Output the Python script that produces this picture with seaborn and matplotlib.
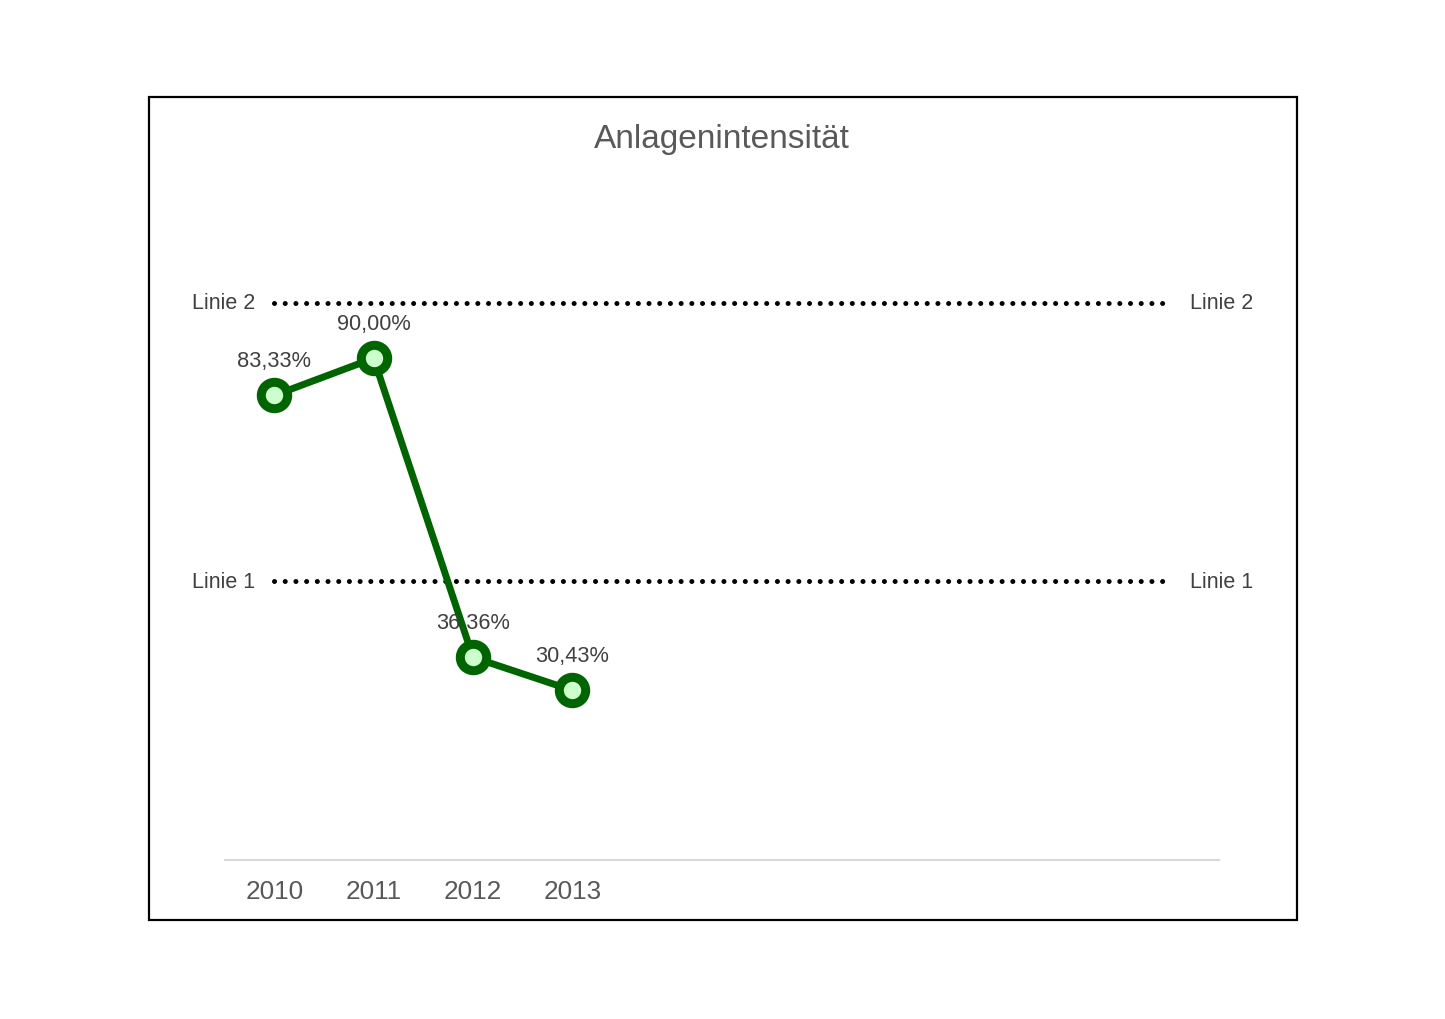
import matplotlib
matplotlib.use("Agg")
import matplotlib.pyplot as plt
import seaborn as sns
import pandas as pd
from matplotlib.patches import Rectangle

# ---- data ----
years = ["2010", "2011", "2012", "2013"]
values = [83.33, 90.00, 36.36, 30.43]
labels = ["83,33%", "90,00%", "36,36%", "30,43%"]
ref_names = ["Linie 1", "Linie 2"]
ref_values = [50, 100]
n_slots = 10
title = "Anlagenintensität"

sns.set_theme(style="white")
plt.rcParams['font.family'] = ['Liberation Sans', 'DejaVu Sans']

fig = plt.figure(figsize=(14.45, 10.2), dpi=100)
ax = fig.add_axes([224.5/1445, 1-861/1020, 994/1445, 669/1020])

df = pd.DataFrame({"pos": range(len(years)), "value": values})

dark = "#006400"
light = "#ccffcc"

# reference lines
for name, v in zip(ref_names, ref_values):
    ax.plot([0, n_slots - 1], [v, v], color="black", lw=3.6,
            linestyle=(0, (0.01, 2.13)), dash_capstyle="round", zorder=2)
    ax.annotate(name, (0, v), xytext=(-14, 0), textcoords="offset points",
                ha="right", va="center", fontsize=15.5, color="#404040",
                annotation_clip=False)
    ax.annotate(name, (n_slots - 1, v), xytext=(15, 0), textcoords="offset points",
                ha="left", va="center", fontsize=15.5, color="#404040",
                annotation_clip=False)

sns.lineplot(data=df, x="pos", y="value", ax=ax, color=dark, lw=5,
             marker="o", markersize=19, markeredgewidth=6.5,
             markeredgecolor=dark, markerfacecolor=light, zorder=3)

for x, y, t in zip(df["pos"], df["value"], labels):
    ax.annotate(t, (x, y), xytext=(0, 25), textcoords="offset points",
                ha="center", va="center", fontsize=15.7, color="#404040", zorder=4)

ax.set_xlim(-0.5, n_slots - 0.5)
ax.set_ylim(0, 120)
ax.set_xticks(range(len(years)))
ax.set_xticklabels(years, fontsize=18.8, color="#595959")
ax.tick_params(axis="x", length=0, pad=14)
ax.set_yticks([])
ax.set_xlabel("")
ax.set_ylabel("")
for s in ["top", "right", "left"]:
    ax.spines[s].set_visible(False)
ax.spines["bottom"].set_color("#d9d9d9")
ax.spines["bottom"].set_linewidth(1.5)

fig.text(722/1445, 1-140/1020, title, ha="center", va="center",
         fontsize=24, color="#595959")

fig.patches.append(Rectangle((149/1445, 1-921/1020), (1297-149)/1445, (921-98)/1020,
                             transform=fig.transFigure, fill=False,
                             edgecolor="black", lw=1.6))

fig.savefig("out.png", dpi=100, facecolor="white")
